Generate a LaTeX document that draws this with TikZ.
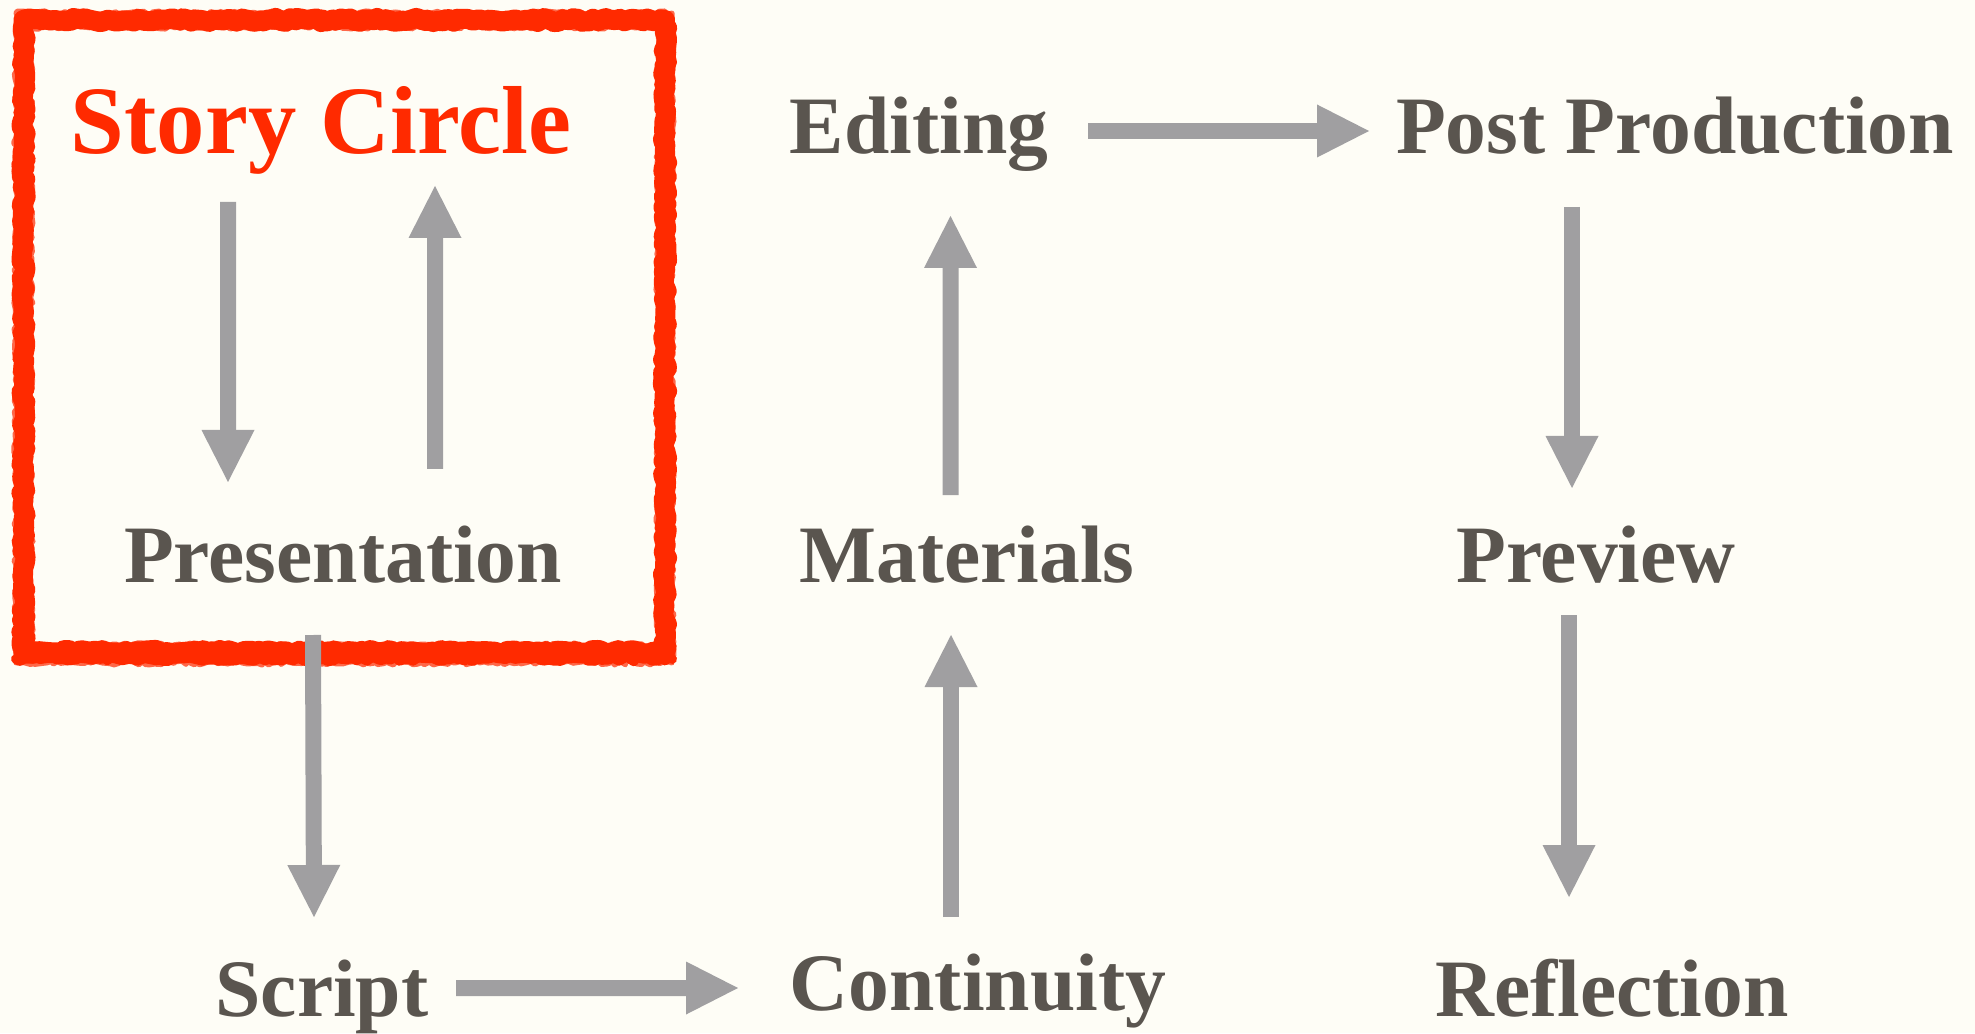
\documentclass[tikz,border=0pt]{standalone}
\usepackage{fontspec}
\setmainfont{Liberation Serif}
\usetikzlibrary{arrows.meta,decorations.pathmorphing}

\definecolor{paper}{HTML}{FEFDF6}
\definecolor{inkgray}{HTML}{5A554F}
\definecolor{arrowgray}{HTML}{A09FA1}
\definecolor{crayonred}{HTML}{FF2A00}

\tikzset{
  stage/.style={anchor=base, inner sep=0pt, text=inkgray,
    font=\fontsize{23.2}{28}\selectfont\bfseries},
  title/.style={stage, text=crayonred,
    font=\fontsize{27.5}{33}\selectfont\bfseries},
  flow/.style={draw=arrowgray, line width=0.16cm,
    -{Triangle[length=0.52cm,width=0.53cm,line width=0pt]}},
  crayon/.style={draw=crayonred, line join=round, line cap=round, decorate,
    decoration={random steps, segment length=1.2pt, amplitude=0.6pt}}
}

\begin{document}
\begin{tikzpicture}
\pgfmathsetseed{7}
\useasboundingbox (0,0) rectangle (19.75,10.33);
\fill[paper] (0,0) rectangle (19.75,10.33);

% crayon frame round the story circle
\draw[crayon, line width=0.2cm] (0.235,10.13) rectangle (6.65,3.81);
\draw[crayon, line width=0.05cm, opacity=0.7] (0.16,10.20) rectangle (6.72,3.70);
\draw[crayon, line width=0.05cm, opacity=0.7] (0.31,10.06) rectangle (6.58,3.88);
\draw[crayon, line width=0.1cm] (0.16,3.74) -- (6.72,3.74);

% stages
\node[title] (sc)     at (3.21,8.79)  {Story Circle};
\node[stage] (edit)   at (9.19,8.79)  {Editing};
\node[stage] (post)   at (16.75,8.79) {Post Production};
\node[stage] (pres)   at (3.43,4.51)  {Presentation};
\node[stage] (mat)    at (9.67,4.51)  {Materials};
\node[stage] (prev)   at (15.96,4.51) {Preview};
\node[stage] (script) at (3.22,0.17)  {Script};
\node[stage] (cont)   at (9.78,0.23)  {Continuity};
\node[stage] (refl)   at (16.12,0.17) {Reflection};

% arrows
\draw[flow] ([xshift=-0.93cm,yshift=-0.48cm]sc.base) -- ([xshift=-1.15cm,yshift=1.00cm]pres.base);
\draw[flow] ([xshift=0.92cm,yshift=1.13cm]pres.base) -- ([xshift=1.14cm,yshift=-0.32cm]sc.base);
\draw[flow] ([xshift=-0.30cm,yshift=-0.53cm]pres.base) -- ([xshift=-0.08cm,yshift=0.99cm]script.base);
\draw[flow] ([xshift=1.34cm,yshift=0.28cm]script.base) -- ([xshift=-2.40cm,yshift=0.22cm]cont.base);
\draw[flow] ([xshift=-0.27cm,yshift=0.93cm]cont.base) -- ([xshift=-0.16cm,yshift=-0.53cm]mat.base);
\draw[flow] ([xshift=-0.165cm,yshift=0.87cm]mat.base) -- ([xshift=0.315cm,yshift=-0.62cm]edit.base);
\draw[flow] ([xshift=1.69cm,yshift=0.23cm]edit.base) -- ([xshift=-3.06cm,yshift=0.23cm]post.base);
\draw[flow] ([xshift=-1.03cm,yshift=-0.53cm]post.base) -- ([xshift=-0.24cm,yshift=0.94cm]prev.base);
\draw[flow] ([xshift=-0.27cm,yshift=-0.33cm]prev.base) -- ([xshift=-0.43cm,yshift=1.19cm]refl.base);
\end{tikzpicture}
\end{document}
